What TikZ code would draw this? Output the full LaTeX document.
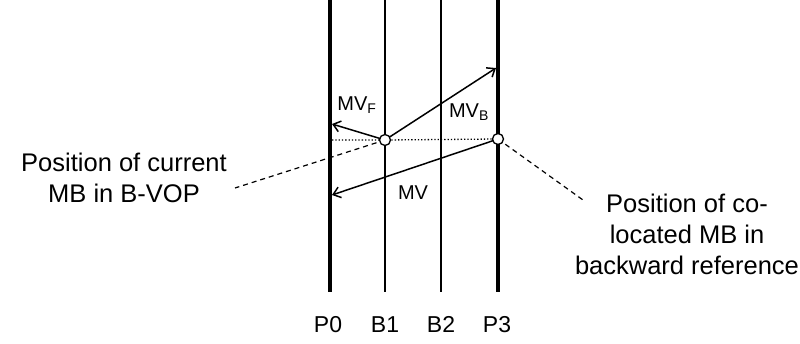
\documentclass[tikz,border=0pt]{standalone}
\usepackage{fontspec}
\setmainfont{Liberation Sans}
\usetikzlibrary{arrows.meta,positioning}

\begin{document}
\begin{tikzpicture}[x=1pt,y=-1pt,
  pframe/.style={draw=black,line width=4pt},
  bframe/.style={draw=black,line width=1.6pt},
  mb/.style={circle,draw=black,fill=white,line width=1.3pt,minimum size=11pt,inner sep=0pt},
  mv/.style={-{Straight Barb[length=7pt,width=11pt]},draw=black,line width=1.5pt},
  lead/.style={draw=black,dashed,line width=1.2pt,dash pattern=on 5pt off 4pt},
  frmlbl/.style={font=\fontsize{23}{27}\selectfont,inner sep=0pt,anchor=base},
  mvlbl/.style={font=\fontsize{20}{24}\selectfont,inner sep=0pt},
  note/.style={align=center,font=\fontsize{25.5}{31}\selectfont,inner sep=0pt}
]
\useasboundingbox (0,0) rectangle (800,343);
% frames
\coordinate (p0top) at (330,0);  \coordinate (p0bot) at (330,292);
\coordinate (b1top) at (385,0);  \coordinate (b1bot) at (385,292);
\coordinate (b2top) at (441,0);  \coordinate (b2bot) at (441,292);
\coordinate (p3top) at (498,0);  \coordinate (p3bot) at (498,292);
\draw[pframe] (p0top) -- (p0bot);
\draw[bframe] (b1top) -- (b1bot);
\draw[bframe] (b2top) -- (b2bot);
\draw[pframe] (p3top) -- (p3bot);
\node[frmlbl] (p0) at (328,332) {P0};
\node[frmlbl] (b1) at (385,332) {B1};
\node[frmlbl] (b2) at (441,332) {B2};
\node[frmlbl] (p3) at (497,332) {P3};
% macroblocks
\coordinate (cur) at (385,140);
\coordinate (col) at (498,139);
\coordinate (p0mid) at (332,140);
\draw[black,dotted,line width=1.3pt] (p0mid) -- (cur) -- (col);
\coordinate (fwdend) at (332,124);
\coordinate (bwdend) at (496,68);
\coordinate (mvend) at (332,195);
\draw[mv] (cur) -- (fwdend);
\draw[mv] (cur) -- (bwdend);
\draw[mv] (col) -- (mvend);
\node[mvlbl] (mvf) at (357,105) {MV\textsubscript{F}};
\node[mvlbl] (mvb) at (469,112) {MV\textsubscript{B}};
\node[mvlbl] (mvl) at (413,193) {MV};
% notes
\node[note] (curtxt) at (124,178) {Position of current\\MB in B-VOP};
\node[note] (coltxt) at (687,234) {Position of co-\\located MB in\\backward reference};
\coordinate (curlead) at (235,188);
\coordinate (collead) at (583,200);
\draw[lead] (cur) -- (curlead);
\draw[lead] (col) -- (collead);
\node[mb] (curmb) at (cur) {};
\node[mb] (colmb) at (col) {};
\end{tikzpicture}
\end{document}
